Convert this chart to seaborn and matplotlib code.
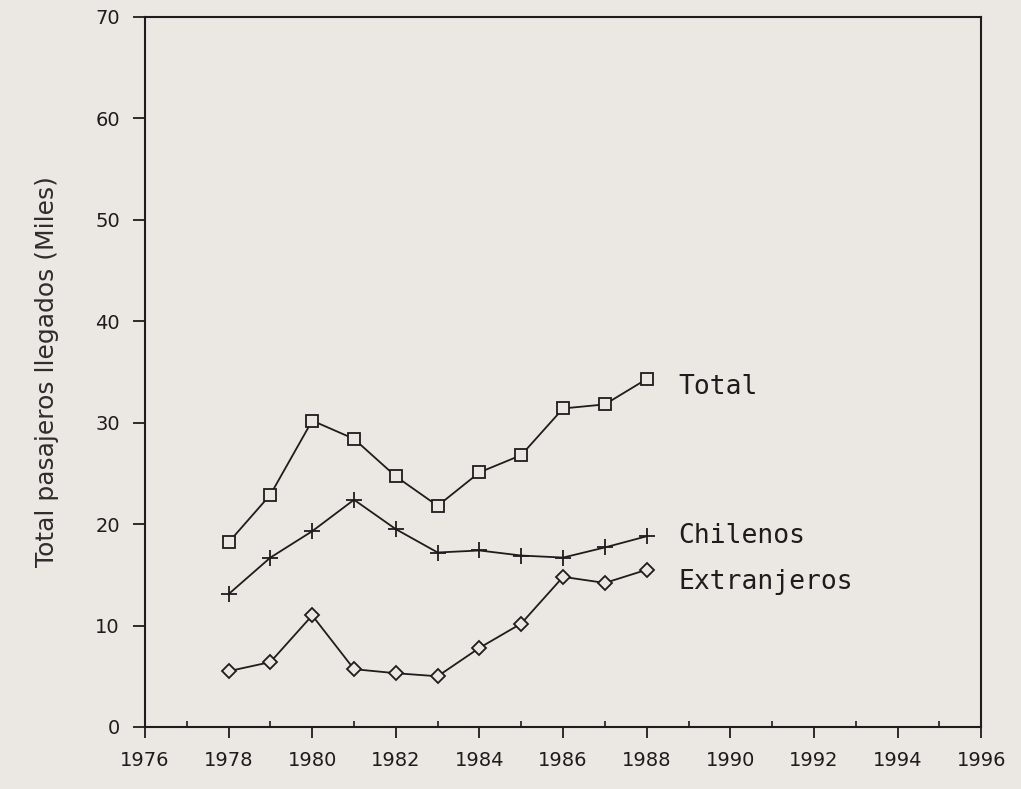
import matplotlib
matplotlib.use("Agg")
import matplotlib.pyplot as plt
from matplotlib.ticker import MultipleLocator
import seaborn as sns
import pandas as pd

# Arribos de pasajeros, 1978-1988 (miles)
anios = [1978, 1979, 1980, 1981, 1982, 1983, 1984, 1985, 1986, 1987, 1988]
total = [18.2, 22.9, 30.2, 28.4, 24.7, 21.8, 25.1, 26.8, 31.4, 31.8, 34.3]
chilenos = [13.1, 16.7, 19.3, 22.4, 19.5, 17.2, 17.4, 16.9, 16.7, 17.7, 18.8]
extranjeros = [5.5, 6.4, 11.0, 5.7, 5.3, 5.0, 7.8, 10.2, 14.8, 14.2, 15.5]

series = ["Total", "Chilenos", "Extranjeros"]
valores = [total, chilenos, extranjeros]
marcadores = {"Total": "s", "Chilenos": "+", "Extranjeros": "D"}
tam_marcador = {"Total": 8.5, "Chilenos": 11, "Extranjeros": 7}
# posición (año, miles) del rótulo de cada serie
rotulos = {"Total": (1988.75, 33.5), "Chilenos": (1988.75, 18.8), "Extranjeros": (1988.75, 14.3)}

x_ticks = list(range(1976, 1997, 2))
y_ticks = list(range(0, 71, 10))
y_label = "Total pasajeros llegados (Miles)"

papel = "#ebe8e3"
tinta = "#1e1c1c"

sns.set_theme(style="ticks")
plt.rcParams["font.family"] = ["DejaVu Sans"]

df = pd.DataFrame(
    [(a, v, s) for s, vals in zip(series, valores) for a, v in zip(anios, vals)],
    columns=["anio", "miles", "serie"],
)

fig = plt.figure(figsize=(10.21, 7.89), dpi=100, facecolor=papel)
ax = fig.add_axes([0.142, 0.0786, 0.819, 0.900])
ax.set_facecolor(papel)

for s in series:
    sns.lineplot(
        data=df[df["serie"] == s], x="anio", y="miles", ax=ax,
        color=tinta, linewidth=1.3, marker=marcadores[s],
        markersize=tam_marcador[s], markerfacecolor=papel,
        markeredgecolor=tinta, markeredgewidth=1.3, legend=False,
    )
    tx, ty = rotulos[s]
    ax.text(tx, ty, s, family="DejaVu Sans Mono", fontsize=19,
            color=tinta, ha="left", va="center")

ax.set_xlim(1976, 1996)
ax.set_ylim(0, 70)
ax.set_xticks(x_ticks)
ax.set_xticklabels([str(t) for t in x_ticks])
ax.xaxis.set_minor_locator(MultipleLocator(1))
ax.set_yticks(y_ticks)
ax.set_yticklabels([str(t) for t in y_ticks])

ax.tick_params(axis="x", which="major", direction="out", length=8, width=1.3,
               pad=9, labelsize=14, colors=tinta)
ax.tick_params(axis="x", which="minor", direction="in", length=4, width=1.2,
               colors=tinta)
ax.tick_params(axis="y", which="major", direction="out", length=9, width=1.3,
               pad=9, labelsize=14, colors=tinta)
ax.tick_params(top=False, right=False, which="both")

for sp in ax.spines.values():
    sp.set_color(tinta)
    sp.set_linewidth(1.5)

ax.set_xlabel("")
ax.set_ylabel(y_label, fontsize=18, color="#2e2c2c", labelpad=26)

fig.savefig("out.png", dpi=100, facecolor=papel)
